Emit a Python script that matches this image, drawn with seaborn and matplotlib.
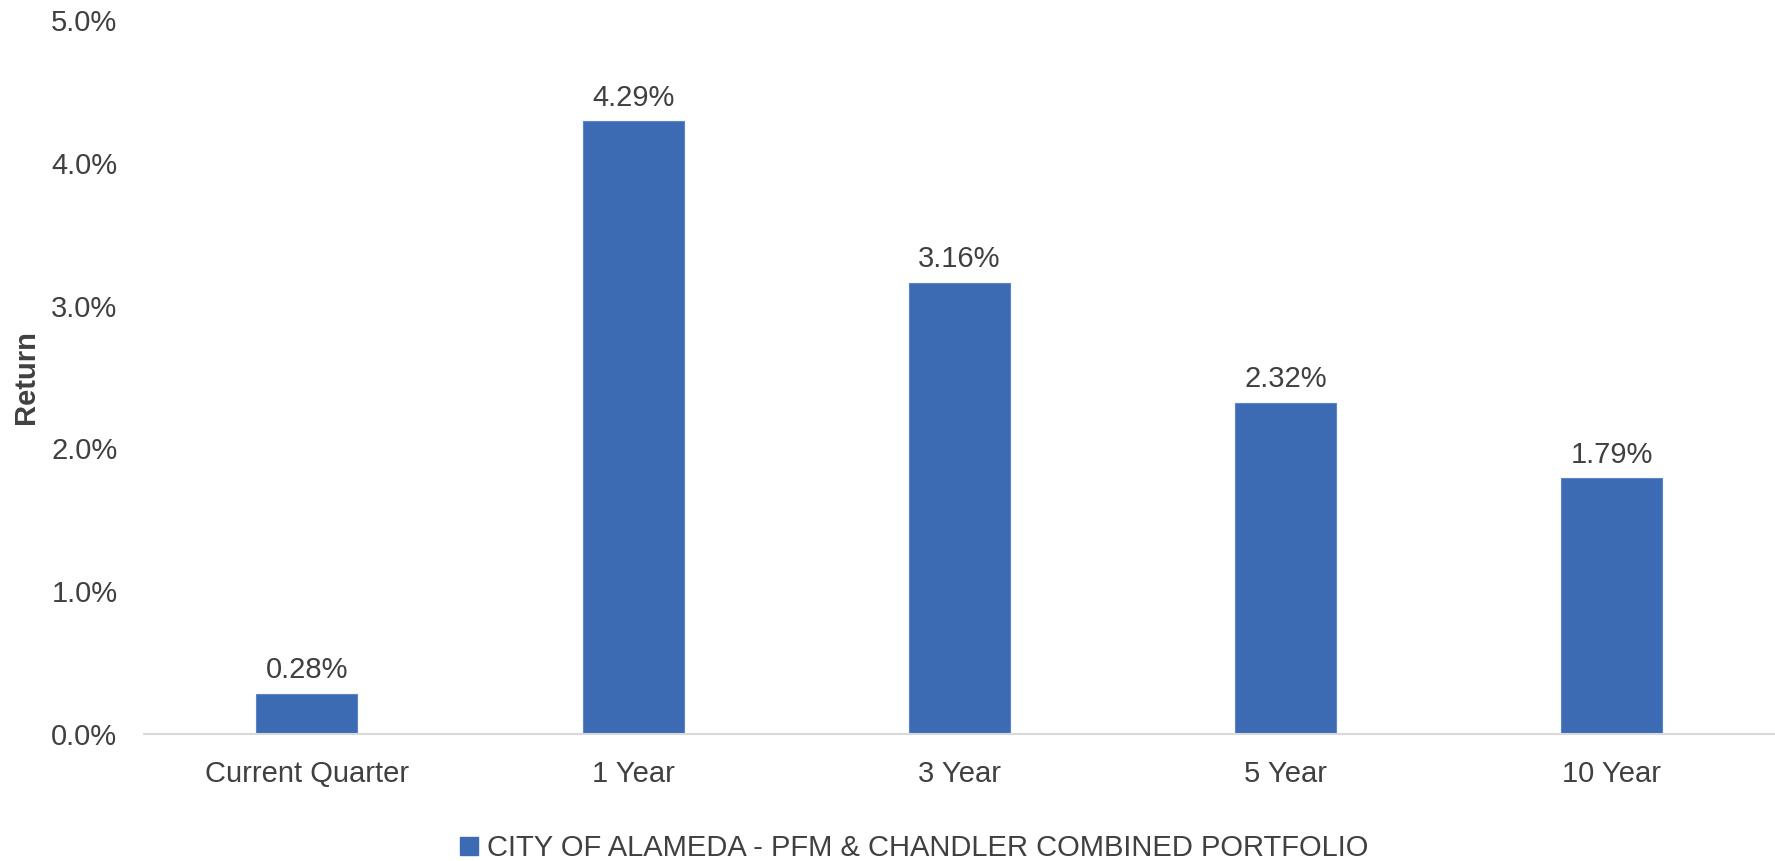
import pandas as pd
import matplotlib
matplotlib.use("Agg")
import matplotlib.pyplot as plt
import seaborn as sns
from matplotlib.ticker import FuncFormatter
from matplotlib.patches import Patch

periods = ["Current Quarter", "1 Year", "3 Year", "5 Year", "10 Year"]
returns = [0.28, 4.29, 3.16, 2.32, 1.79]
series_name = "CITY OF ALAMEDA - PFM & CHANDLER COMBINED PORTFOLIO"
y_ticks = [0.0, 1.0, 2.0, 3.0, 4.0, 5.0]

BAR = "#3C6BB3"
TXT = "#404040"
FS = 21

df = pd.DataFrame({"Period": periods, "Return": returns})

sns.set_theme(style="white")
plt.rcParams["font.family"] = ["Liberation Sans", "DejaVu Sans"]

fig = plt.figure(figsize=(17.75, 8.61), dpi=100)
ax = fig.add_axes([0.081, 0.1475, 0.919, 0.8293])
sns.barplot(data=df, x="Period", y="Return", color=BAR, width=0.31,
            saturation=1, ax=ax, edgecolor="#5B85C6", linewidth=0.8)

for i, v in enumerate(returns):
    ax.annotate(f"{v:.2f}%", (i, v), xytext=(0, 7), textcoords="offset points",
                ha="center", va="bottom", fontsize=FS, color=TXT)

ax.set_ylim(0, 5.0)
ax.set_xlim(-0.5, len(periods) - 0.5)
ax.set_yticks(y_ticks)
ax.yaxis.set_major_formatter(FuncFormatter(lambda v, p: f"{v:.1f}%"))
ax.tick_params(axis="y", length=0, pad=19, labelsize=FS, labelcolor=TXT)
ax.tick_params(axis="x", length=0, pad=19, labelsize=FS, labelcolor=TXT)
ax.set_xlabel("")
ax.set_ylabel("Return", fontsize=FS, fontweight="bold", color=TXT, labelpad=8)

for s in ["top", "right", "left"]:
    ax.spines[s].set_visible(False)
ax.spines["bottom"].set_color("#D9D9D9")
ax.spines["bottom"].set_linewidth(1.5)

handle = Patch(facecolor=BAR, edgecolor=BAR)
fig.legend([handle], [series_name], loc="center", bbox_to_anchor=(0.515, 0.015),
           frameon=False, fontsize=FS, handlelength=0.6, handleheight=0.6,
           handletextpad=0.3, labelcolor=TXT)

fig.savefig("out.png", dpi=100)
